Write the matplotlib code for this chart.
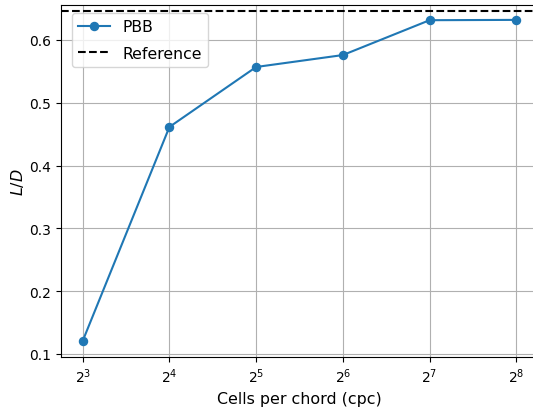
import matplotlib
matplotlib.use("Agg")
import matplotlib.pyplot as plt

cpc = [8, 16, 32, 64, 128, 256]
ld_pbb = [0.1207, 0.4615, 0.557, 0.576, 0.6315, 0.632]
ld_reference = 0.646

fig = plt.figure(figsize=(5.33, 4.14), dpi=100)
ax = fig.add_axes([61/533, 56/414, 477/533, 352/414])
ax.plot(cpc, ld_pbb, marker='o', color='#1f77b4', label='PBB', markersize=5.8)
ax.axhline(ld_reference, color='black', linestyle='--', label='Reference')
ax.set_xscale('log', base=2)
ax.set_xlim(8 / 2**0.25, 256 * 2**0.25)
ax.set_ylim(0.0952, 0.6557)
ax.grid(True)
ax.set_xlabel('Cells per chord (cpc)', fontsize=11.4)
ax.set_ylabel('$L/D$', fontsize=11.4, labelpad=2.5)
ax.legend(loc='upper left', fontsize=11.3, labelspacing=0.75,
          bbox_to_anchor=(3/477, 1.0))
fig.savefig('out.png', dpi=100)
